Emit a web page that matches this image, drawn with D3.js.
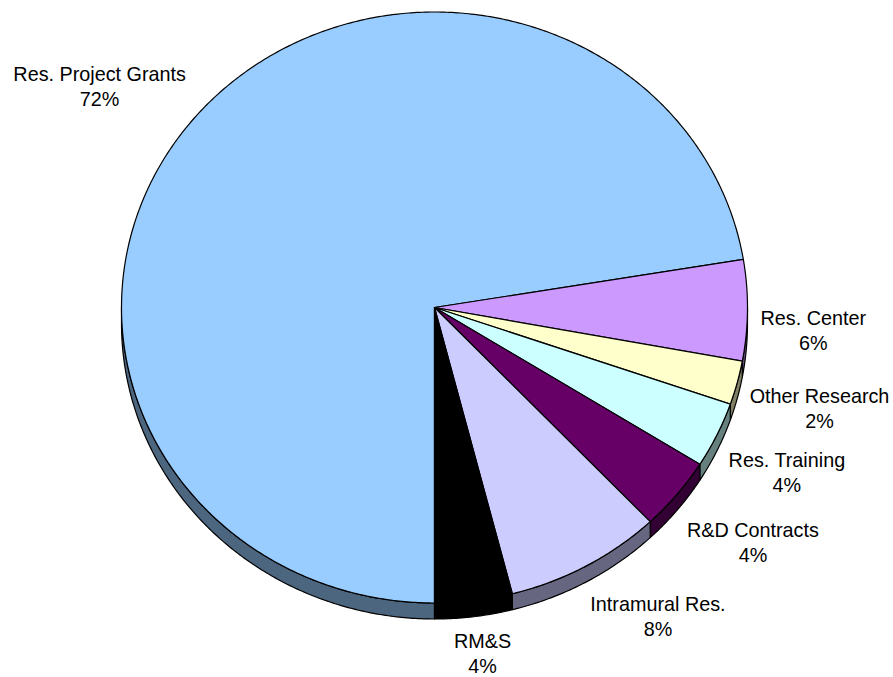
<!DOCTYPE html>
<html>
<head>
<meta charset="utf-8">
<script src="https://cdn.jsdelivr.net/npm/d3@7/dist/d3.min.js"></script>
<style>
  body { margin: 0; background: #fff; }
  text { font-family: "Liberation Sans", Arial, sans-serif; font-size: 19.8px; fill: #000; }
</style>
</head>
<body>
<div id="idContent"></div>
<script>
// slice data, clockwise from 6 o'clock
var aCategories = ["Res. Project Grants", "Res. Center", "Other Research", "Res. Training", "R&D Contracts", "Intramural Res.", "RM&S"];
var aShares = [72.4, 5.5, 2.4, 3.6, 4.0, 8.1, 4.0];
var aColors = ["#99ccff", "#cc99ff", "#ffffcc", "#ccffff", "#660066", "#ccccff", "#000000"];

var width = 893, height = 677;
var cx = 434.5, cy = 307.5, rx = 313, ry = 295.5, depth = 16;

var svg = d3.select("#idContent").append("svg")
	.attr("width", width)
	.attr("height", height);

svg.append("rect").attr("width", width).attr("height", height).attr("fill", "#fff");

var color = d3.scaleOrdinal().domain(aCategories).range(aColors);

function sideColor(name) {
	var c = d3.rgb(color(name));
	return d3.rgb(c.r / 2, c.g / 2, c.b / 2).formatHex();
}

// point on the pie rim, angle in d3 convention (0 = 12 o'clock, clockwise)
function rim(a, dz) {
	return [cx + rx * Math.sin(a), cy - ry * Math.cos(a) + dz];
}

function sampleAngles(a0, a1) {
	var n = Math.max(2, Math.ceil(Math.abs(a1 - a0) / (Math.PI / 360)));
	return d3.range(n + 1).map(function (i) { return a0 + (a1 - a0) * i / n; });
}

function smoothstep(t) {
	t = Math.max(0, Math.min(1, t));
	return t * t * (3 - 2 * t);
}

var line = d3.line();

var pie = d3.pie()
	.sort(null)
	.startAngle(Math.PI)
	.endAngle(3 * Math.PI)
	.value(function (d) { return d.value; });

var oDataset = aCategories.map(function (name, i) {
	return { name: name, value: aShares[i] };
});
var aArcs = pie(oDataset);

// side bands (only the front half is visible)
var gSides = svg.append("g");
aArcs.forEach(function (d) {
	[[Math.PI / 2, 1.5 * Math.PI], [2.5 * Math.PI, 3.5 * Math.PI]].forEach(function (win) {
		var lo = Math.max(d.startAngle, win[0]);
		var hi = Math.min(d.endAngle, win[1]);
		if (hi - lo <= 0.0001) return;
		var aTop = sampleAngles(lo, hi).map(function (a) { return rim(a, 0); });
		var aBot = sampleAngles(hi, lo).map(function (a) { return rim(a, depth); });
		gSides.append("path")
			.attr("d", line(aTop.concat(aBot)) + "Z")
			.attr("fill", sideColor(d.data.name))
			.attr("stroke", "#000")
			.attr("stroke-width", 1.2)
			.attr("stroke-linejoin", "round");
	});
});

// top faces
svg.append("g").selectAll("path")
	.data(aArcs)
	.enter().append("path")
	.attr("d", function (d) {
		var pts = [[cx, cy]].concat(sampleAngles(d.startAngle, d.endAngle).map(function (a) { return rim(a, 0); }));
		return line(pts) + "Z";
	})
	.attr("fill", function (d) { return color(d.data.name); })
	.attr("stroke", "#000")
	.attr("stroke-width", 1.2)
	.attr("stroke-linejoin", "round");

// labels outside the rim
var gap = 13, lineH = 25;
var gLabels = svg.append("g");
aArcs.forEach(function (d) {
	var mid = (d.startAngle + d.endAngle) / 2;
	var s = Math.sin(mid), c = -Math.cos(mid);
	var ax = cx + (rx + gap) * s;
	var ay = cy + (ry + gap) * c + 19 * smoothstep((c - 0.15) / 0.5);

	var t = gLabels.append("text").attr("text-anchor", "middle");
	var t1 = t.append("tspan").text(d.data.name);
	var t2 = t.append("tspan").text(Math.round(d.data.value) + "%");
	var w = Math.max(t1.node().getComputedTextLength(), t2.node().getComputedTextLength());

	var bx = ax + (w / 2) * Math.max(-1, Math.min(1, 2 * s));
	var base1 = c >= -0.05 ? ay + 15 : ay - 2 - lineH;

	t1.attr("x", bx).attr("y", base1);
	t2.attr("x", bx).attr("y", base1 + lineH);
});
</script>
</body>
</html>
